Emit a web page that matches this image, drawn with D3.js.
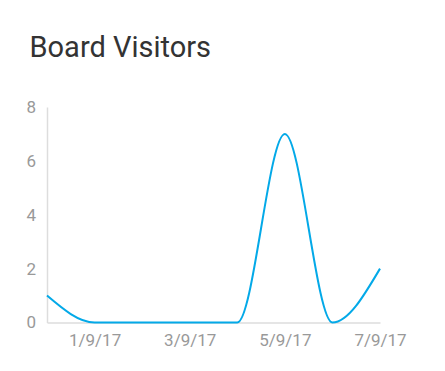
<!DOCTYPE html>
<html lang="en">
<head>
<meta charset="UTF-8">
<title>Board Visitors</title>
<script src="https://cdn.jsdelivr.net/npm/d3@7"></script>
<style>
body {
    margin: 0;
    background: #fff;
    font-family: Roboto, sans-serif;
}
.title {
    font-family: Roboto, sans-serif;
    font-size: 29px;
    fill: #333;
}
.tick text {
    font-family: Roboto, sans-serif;
    font-size: 17px;
    fill: #999;
}
</style>
</head>
<body>
<svg id="chart" width="445" height="371"></svg>
<script>
// monthly values, Dec 2016 .. Jul 2017
const MONTHS = ["12/9/16", "1/9/17", "2/9/17", "3/9/17", "4/9/17", "5/9/17", "6/9/17", "7/9/17"];
const VISITORS = [1, 0, 0, 0, 0, 7, 0, 2];
const X_TICKS = ["1/9/17", "3/9/17", "5/9/17", "7/9/17"];
const Y_TICKS = [0, 2, 4, 6, 8];

const WIDTH = 445;
const HEIGHT = 371;
const margin = {top: 107, right: 65, bottom: 48.5, left: 47};

const svg = d3.select("#chart");

svg.append("text")
    .attr("class", "title")
    .attr("x", 29.5)
    .attr("y", 57)
    .text("Board Visitors");

const x = d3.scalePoint()
    .domain(MONTHS)
    .range([margin.left, WIDTH - margin.right]);

const y = d3.scaleLinear()
    .domain([0, 8])
    .range([HEIGHT - margin.bottom, margin.top]);

// y axis
const yAxis = svg.append("g")
    .attr("transform", `translate(${margin.left},0)`)
    .call(d3.axisLeft(y).tickValues(Y_TICKS).tickSize(0).tickPadding(11));
yAxis.select(".domain").attr("stroke", "#ddd").attr("stroke-width", 1.5);

// x axis
const xAxis = svg.append("g")
    .attr("transform", `translate(0,${HEIGHT - margin.bottom})`)
    .call(d3.axisBottom(x).tickValues(X_TICKS).tickSize(0).tickPadding(11));
xAxis.select(".domain").attr("stroke", "#ddd").attr("stroke-width", 1.5);

const line = d3.line()
    .x((d, i) => x(MONTHS[i]))
    .y(d => y(d))
    .curve(d3.curveMonotoneX);

svg.append("path")
    .datum(VISITORS)
    .attr("fill", "none")
    .attr("stroke", "#03a9e8")
    .attr("stroke-width", 2)
    .attr("d", line);
</script>
</body>
</html>
